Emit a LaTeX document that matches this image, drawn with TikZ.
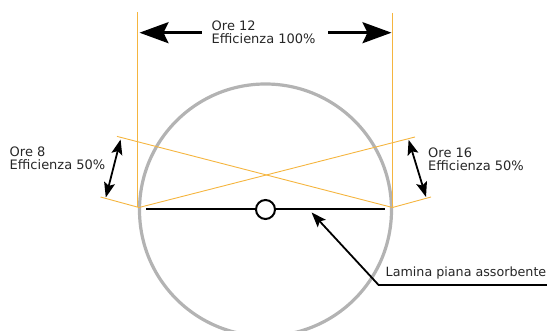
\documentclass[tikz,border=0pt]{standalone}
\usepackage{fontspec}
\setmainfont{DejaVu Sans}
\usetikzlibrary{arrows.meta}
\definecolor{rayorange}{HTML}{F5B53F}
\definecolor{ringgray}{HTML}{B3B3B3}
\definecolor{txt}{HTML}{262626}
\begin{document}
\begin{tikzpicture}[x=1pt,y=-1pt,
  lbl/.style={anchor=base west,inner sep=0pt,text=txt,font=\fontsize{13}{14}\selectfont},
  ray/.style={draw=rayorange,line width=0.9pt},
  bigarrow/.style={line width=2.7pt,-{Stealth[length=29pt,width=21pt,inset=5pt]}},
  dimarrow/.style={line width=1.8pt,{Stealth[length=15pt,width=11pt,inset=3pt]}-{Stealth[length=15pt,width=11pt,inset=3pt]}},
  leader/.style={line width=1.8pt,-{Stealth[length=15pt,width=11pt,inset=3pt]}}]
\useasboundingbox (0,0) rectangle (547,331);
% coordinates
\coordinate (C) at (265.5,210);
\coordinate (A) at (139,207.5);
\coordinate (B) at (392.5,207.5);
\coordinate (Vl) at (137.8,12);
\coordinate (Vlb) at (137.8,207.5);
\coordinate (Vr) at (392.5,13);
\coordinate (L1e) at (117,136.4);
\coordinate (L2e) at (415,137);
\coordinate (S1e) at (100.5,197);
\coordinate (S2e) at (431,197);
% gray ring
\draw[ringgray,line width=3.2pt] (C) circle[radius=126pt];
% orange rays
\draw[ray] (Vl) -- (Vlb);
\draw[ray] (Vr) -- (B);
\draw[ray] (B) -- (L1e);
\draw[ray] (A) -- (L2e);
\draw[ray] (A) -- (S1e);
\draw[ray] (B) -- (S2e);
% plate
\coordinate (P1) at (146,209.3);
\coordinate (P2) at (385,209.3);
\draw[line width=2.4pt] (P1) -- (P2);
\node[circle,draw,fill=white,line width=2pt,minimum size=19pt,inner sep=0pt] (axis) at (265.5,209.5) {};
% top arrows
\coordinate (T1s) at (201.7,32.7);
\coordinate (T1e) at (139.5,32.7);
\coordinate (T2s) at (328,32.7);
\coordinate (T2e) at (391.5,32.7);
\draw[bigarrow] (T1s) -- (T1e);
\draw[bigarrow] (T2s) -- (T2e);
% side dimension arrows
\coordinate (D1a) at (120.6,139.5);
\coordinate (D1b) at (105.8,197.5);
\coordinate (D2a) at (408.6,139.8);
\coordinate (D2b) at (426,197);
\draw[dimarrow] (D1a) -- (D1b);
\draw[dimarrow] (D2a) -- (D2b);
% leader
\coordinate (Le) at (547,285);
\coordinate (Lk) at (378.6,285);
\coordinate (Lt) at (311.6,212.5);
\draw[leader] (Le) -- (Lk) -- (Lt);
% labels
\node[lbl] (t12a) at (211.5,30.3) {Ore 12};
\node[lbl] (t12b) at (211.5,44) {Efficienza 100\%};
\node[lbl] (t8a) at (9.5,156.8) {Ore 8};
\node[lbl] (t8b) at (9.5,170) {Efficienza 50\%};
\node[lbl] (t16a) at (428,157.3) {Ore 16};
\node[lbl] (t16b) at (428,170.5) {Efficienza 50\%};
\node[lbl,font=\fontsize{12.7}{14}\selectfont] (lam) at (385.5,277) {Lamina piana assorbente};
\end{tikzpicture}
\end{document}
